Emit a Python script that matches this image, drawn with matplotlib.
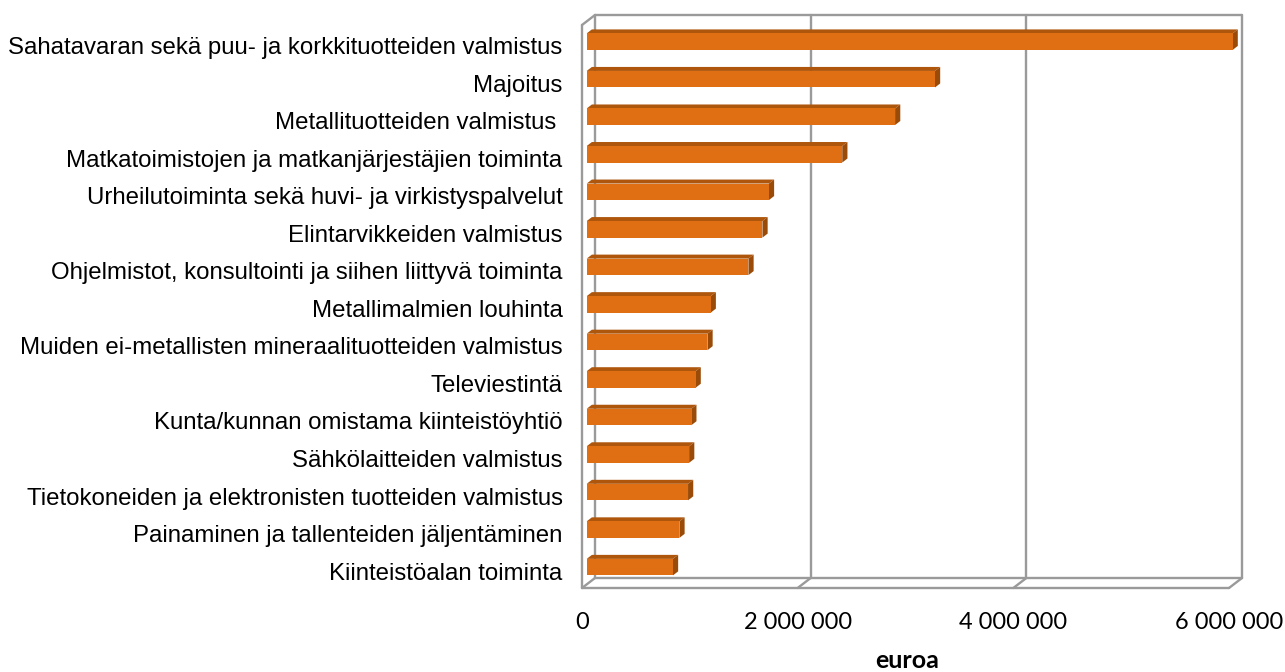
import matplotlib
matplotlib.use("Agg")
import matplotlib.pyplot as plt
import numpy as np
from matplotlib.patches import Polygon
from matplotlib.lines import Line2D
from matplotlib.transforms import IdentityTransform

categories = [
    "Sahatavaran sekä puu- ja korkkituotteiden valmistus",
    "Majoitus",
    "Metallituotteiden valmistus ",
    "Matkatoimistojen ja matkanjärjestäjien toiminta",
    "Urheilutoiminta sekä huvi- ja virkistyspalvelut",
    "Elintarvikkeiden valmistus",
    "Ohjelmistot, konsultointi ja siihen liittyvä toiminta",
    "Metallimalmien louhinta",
    "Muiden ei-metallisten mineraalituotteiden valmistus",
    "Televiestintä",
    "Kunta/kunnan omistama kiinteistöyhtiö",
    "Sähkölaitteiden valmistus",
    "Tietokoneiden ja elektronisten tuotteiden valmistus",
    "Painaminen ja tallenteiden jäljentäminen",
    "Kiinteistöalan toiminta",
]
values = [5990000, 3230000, 2860000, 2370000, 1690000, 1630000, 1500000,
          1150000, 1120000, 1010000, 970000, 950000, 940000, 860000, 800000]
xticks = [0, 2000000, 4000000, 6000000]
xticklabels = ["0", "2 000 000", "4 000 000", "6 000 000"]
xlabel = "euroa"

W, H = 1285, 672
fig = plt.figure(figsize=(W / 100, H / 100), dpi=100)
ax = fig.add_axes([582 / W, (H - 588) / H, (1229 - 582) / W, (588 - 25) / H])
ax.set_xlim(0, 6000000)
ax.set_ylim(-0.5, len(categories) - 0.5)
for s in ax.spines.values():
    s.set_visible(False)

ypos = np.arange(len(categories))[::-1]

DX, DY = 13.0, 10.0  # depth offset in pixels


def P(x, y, d):
    p = ax.transData.transform((x, y))
    return (p[0] + d * DX, p[1] + d * DY)


wall = "#9A9A9A"
lw = 1.7
ymin, ymax = -0.5, len(categories) - 0.5


def seg(a, b, z=1):
    fig.add_artist(Line2D([a[0], b[0]], [a[1], b[1]], transform=IdentityTransform(),
                          color=wall, lw=lw, zorder=z, solid_capstyle="round"))


# back wall
seg(P(0, ymax, 1), P(6000000, ymax, 1))
for xv in xticks:
    seg(P(xv, ymin, 1), P(xv, ymax, 1))
    seg(P(xv, ymin, 0), P(xv, ymin, 1))
# floor
seg(P(0, ymin, 0), P(6000000, ymin, 0))
seg(P(0, ymin, 1), P(6000000, ymin, 1))
# left side wall
seg(P(0, ymin, 0), P(0, ymax, 0), z=5)
seg(P(0, ymax, 0), P(0, ymax, 1))

# bars
f1, f2 = 0.36, 0.76
h = 0.44
c_front = "#E06E12"
c_top = "#AE560C"
c_side = "#9A4B08"
for y, v in zip(ypos, values):
    y0, y1 = y - h / 2 - 0.04, y + h / 2 - 0.04
    front = [P(0, y0, f1), P(v, y0, f1), P(v, y1, f1), P(0, y1, f1)]
    top = [P(0, y1, f1), P(v, y1, f1), P(v, y1, f2), P(0, y1, f2)]
    side = [P(v, y0, f1), P(v, y0, f2), P(v, y1, f2), P(v, y1, f1)]
    for pts, col in ((top, c_top), (side, c_side), (front, c_front)):
        fig.add_artist(Polygon(pts, closed=True, transform=IdentityTransform(),
                               facecolor=col, edgecolor="none", zorder=3))

ax.set_yticks(ypos - 0.05)
ax.set_yticklabels(categories, fontfamily="Liberation Sans", fontsize=17.3, color="#000000")
ax.tick_params(axis="y", length=0, pad=14)
ax.set_xticks(xticks)
ax.set_xticklabels(xticklabels, fontfamily="Lato", fontsize=17, color="#000000")
ax.tick_params(axis="x", length=0, pad=17)
ax.set_xlabel(xlabel, fontfamily="Lato", fontsize=18, fontweight="bold")
ax.xaxis.set_label_coords(0.502, -0.128)
ax.xaxis.label.set_va("center")

fig.savefig("out.png", dpi=100)
